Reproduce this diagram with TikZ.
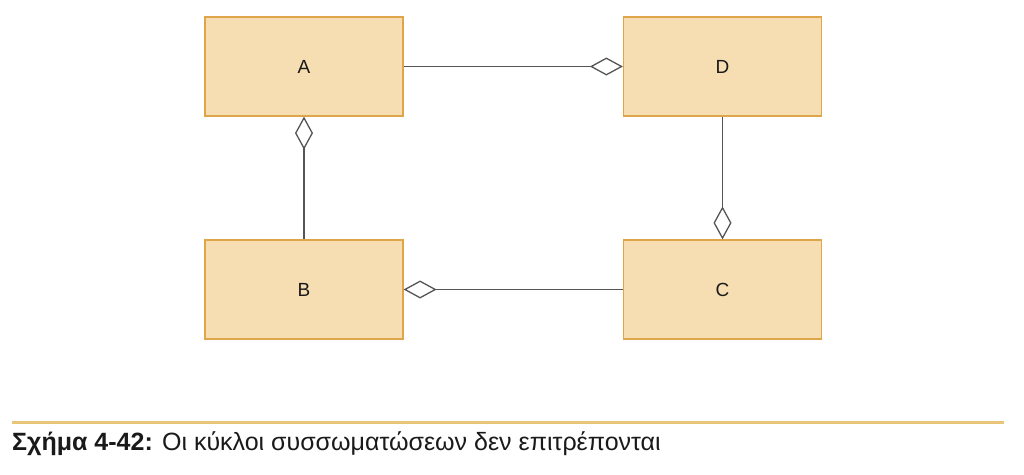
\documentclass[tikz,border=0pt]{standalone}
\usepackage{fontspec}
\setmainfont{Liberation Sans}
\usetikzlibrary{arrows.meta}
\definecolor{boxfill}{HTML}{F6DDB2}
\definecolor{boxline}{HTML}{DFA54A}
\definecolor{rulecol}{HTML}{E9C57A}
\definecolor{conn}{HTML}{555555}
\definecolor{captext}{HTML}{1A1A1A}
\tikzset{
  classbox/.style={draw=boxline, fill=boxfill, line width=1.2pt, minimum width=198pt, minimum height=99pt, inner sep=0pt, font=\fontsize{19pt}{22pt}\selectfont, text=captext},
  agg/.style={draw=conn, line width=1.3pt, {Diamond[open, length=33pt, width=18pt, line width=1.3pt]}-},
}
\begin{document}
\begin{tikzpicture}[x=1pt,y=-1pt]
\useasboundingbox (0,0) rectangle (1024,474);
\node[classbox] (A) at (304,66.5) {A};
\node[classbox] (D) at (722.5,66.5) {D};
\node[classbox] (B) at (304,289.5) {B};
\node[classbox] (C) at (722.5,289.5) {C};
\draw[agg] (D.west) -- (A.east);
\draw[agg] (A.south) -- (B.north);
\draw[agg] (C.north) -- (D.south);
\draw[agg] (B.east) -- (C.west);
\coordinate (r1) at (12,422);
\coordinate (r2) at (1004,422);
\draw[rulecol, line width=3pt] (r1) -- (r2);
\node[anchor=west, inner sep=0pt, text=captext, font=\fontsize{25pt}{29pt}\selectfont] (cap) at (12,444) {\textbf{Σχήμα 4-42:} Οι κύκλοι συσσωματώσεων δεν επιτρέπονται};
\end{tikzpicture}
\end{document}
